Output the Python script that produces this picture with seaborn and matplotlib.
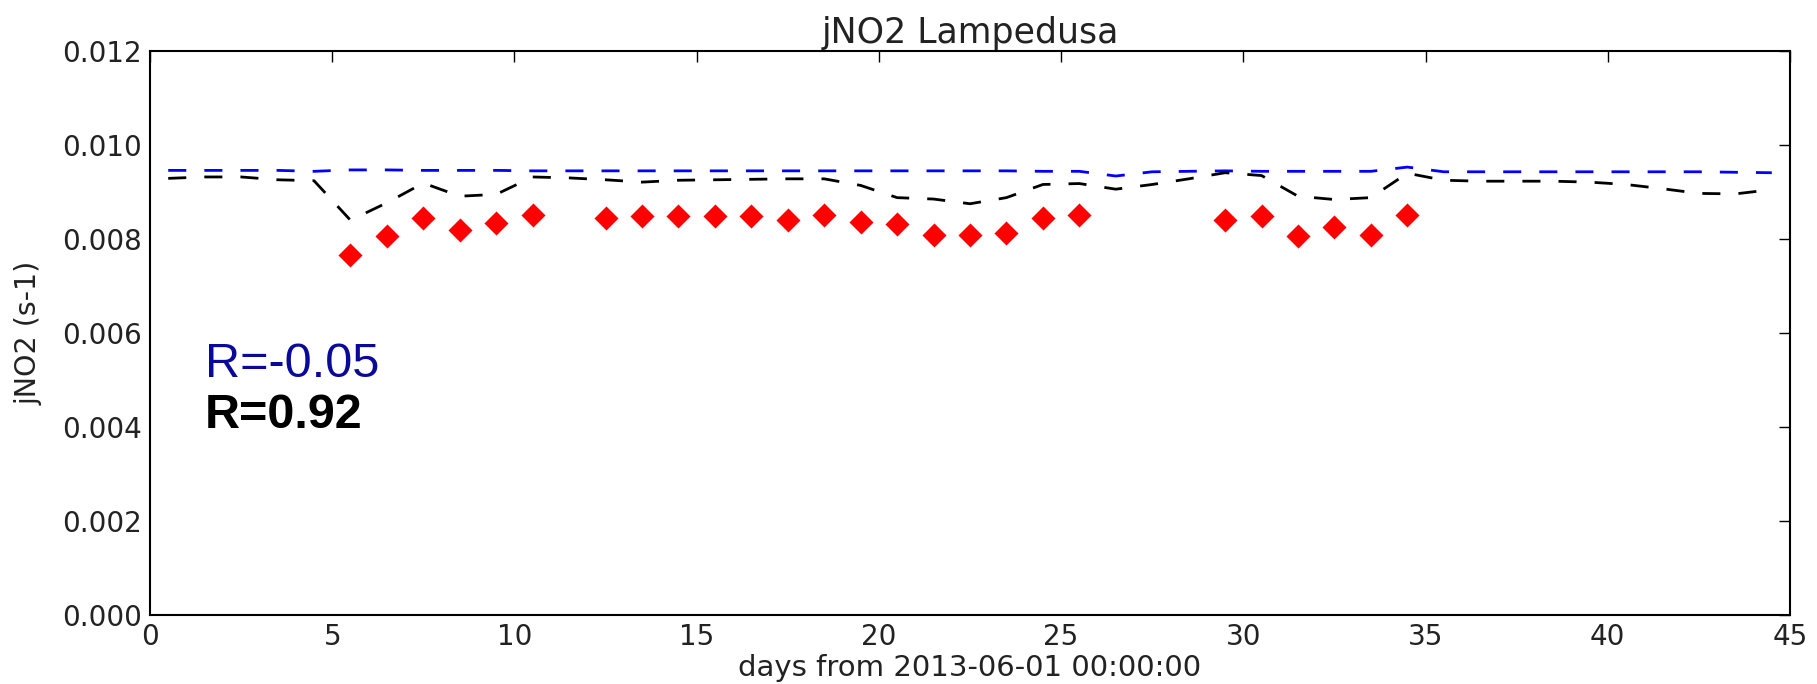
import matplotlib
matplotlib.use("Agg")
import matplotlib.pyplot as plt
import seaborn as sns
import pandas as pd
import numpy as np

# ---- data ----
model_days = [d + 0.5 for d in range(45)]
model_blue = [0.00946, 0.00946, 0.00946, 0.00946, 0.00944, 0.00947, 0.00947, 0.00946, 0.00946, 0.00946,
              0.00945, 0.00945, 0.00945, 0.00945, 0.00945, 0.00945, 0.00945, 0.00945, 0.00945, 0.00945,
              0.00945, 0.00945, 0.00945, 0.00945, 0.00944, 0.00944, 0.00934, 0.00943, 0.00944, 0.00945,
              0.00944, 0.00944, 0.00944, 0.00944, 0.00953, 0.00943, 0.00943, 0.00943, 0.00943, 0.00943,
              0.00943, 0.00943, 0.00943, 0.00942, 0.00941]
model_black = [0.00929, 0.00932, 0.00932, 0.00926, 0.00924, 0.00840, 0.00877, 0.00919, 0.00891, 0.00895,
               0.00932, 0.00930, 0.00926, 0.00921, 0.00925, 0.00926, 0.00927, 0.00928, 0.00928, 0.00914,
               0.00888, 0.00885, 0.00875, 0.00888, 0.00916, 0.00918, 0.00906, 0.00916, 0.00928, 0.00941,
               0.00935, 0.00891, 0.00884, 0.00888, 0.00940, 0.00925, 0.00923, 0.00923, 0.00923, 0.00921,
               0.00916, 0.00907, 0.00897, 0.00896, 0.00905]
obs_days = [5.5, 6.5, 7.5, 8.5, 9.5, 10.5,
            12.5, 13.5, 14.5, 15.5, 16.5, 17.5, 18.5, 19.5, 20.5, 21.5, 22.5, 23.5, 24.5, 25.5,
            29.5, 30.5, 31.5, 32.5, 33.5, 34.5]
obs_vals = [0.00766, 0.00806, 0.00844, 0.00819, 0.00833, 0.00851,
            0.00844, 0.00848, 0.00848, 0.00848, 0.00848, 0.00841, 0.00851, 0.00836, 0.00832, 0.00809,
            0.00809, 0.00813, 0.00844, 0.00851,
            0.00841, 0.00848, 0.00806, 0.00825, 0.00809, 0.00851]
r_labels = ["R=-0.05", "R=0.92"]
title = "jNO2 Lampedusa"
xlabel = "days from 2013-06-01 00:00:00"
ylabel = "jNO2 (s-1)"
xticks = [0, 5, 10, 15, 20, 25, 30, 35, 40, 45]
yticks = [0.000, 0.002, 0.004, 0.006, 0.008, 0.010, 0.012]

sns.set_style("white")
plt.rcParams['font.family'] = ['DejaVu Sans']

fig = plt.figure(figsize=(18.17, 6.84), dpi=100)
ax = fig.add_axes([150/1817, 1 - 615/684, (1790 - 150)/1817, (615 - 51)/684])

df_model = pd.DataFrame({"day": model_days, "blue": model_blue, "black": model_black})
df_obs = pd.DataFrame({"day": obs_days, "val": obs_vals})

sns.lineplot(data=df_model, x="day", y="blue", ax=ax, color="blue", lw=2.0,
             dashes=False, estimator=None)
sns.lineplot(data=df_model, x="day", y="black", ax=ax, color="black", lw=2.0,
             dashes=False, estimator=None)
for ln in ax.get_lines():
    ln.set_dashes((6.5, 6.5))
    ln.set_dash_capstyle("butt")

sns.scatterplot(data=df_obs, x="day", y="val", ax=ax, marker="D", color="red",
                s=150, edgecolor="red", linewidth=0, zorder=3)

ax.text(1.5, 0.00507, r_labels[0], color="#0a0a9a", fontsize=35,
        family=["Liberation Sans", "DejaVu Sans"], va="baseline", ha="left")
ax.text(1.5, 0.00397, r_labels[1], color="black", fontsize=35, fontweight="bold",
        family=["Liberation Sans", "DejaVu Sans"], va="baseline", ha="left")

ax.set_xlim(0, 45)
ax.set_ylim(0, 0.012)
ax.set_xticks(xticks)
ax.set_xticklabels([str(t) for t in xticks])
ax.set_yticks(yticks)
ax.set_yticklabels([f"{t:.3f}" for t in yticks])
ax.tick_params(direction="in", top=True, right=True, length=8, width=1,
               labelsize=20, pad=6, colors="black")
ax.tick_params(axis="y", labelcolor="#222222")
ax.tick_params(axis="x", labelcolor="#222222")
for sp in ax.spines.values():
    sp.set_color("black")
    sp.set_linewidth(1.5)

ax.set_title(title, fontsize=25, color="#222222", pad=6)
ax.set_xlabel(xlabel, fontsize=21, color="#222222", labelpad=2)
ax.set_ylabel(ylabel, fontsize=20.5, color="#222222", labelpad=14)

fig.savefig("out.png", dpi=100, facecolor="white")
